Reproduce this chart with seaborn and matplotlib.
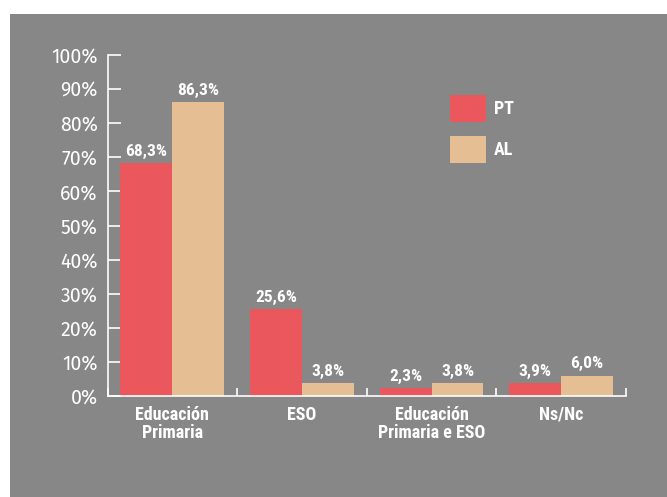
import matplotlib.pyplot as plt
import pandas as pd
import seaborn as sns
from matplotlib.patches import Patch, Rectangle

CATEGORIES = ["Educación\nPrimaria", "ESO", "Educación\nPrimaria e ESO", "Ns/Nc"]
SERIES = ["PT", "AL"]
PT_VALUES = [68.3, 25.6, 2.3, 3.9]
AL_VALUES = [86.3, 3.8, 3.8, 6.0]
Y_TICKS = list(range(0, 101, 10))

COLORS = {"PT": "#EA575C", "AL": "#E5BE94"}
PANEL = "#878787"
BOLD_FONT = ["Roboto Condensed", "Fira Sans Condensed", "DejaVu Sans"]
LIGHT_FONT = ["Fira Sans", "DejaVu Sans"]


def fmt(v: float) -> str:
    return f"{v:.1f}%".replace(".", ",")


def main() -> None:
    sns.set_theme(style="white")
    plt.rcParams["font.family"] = BOLD_FONT

    df = pd.DataFrame(
        {
            "categoria": CATEGORIES * 2,
            "serie": ["PT"] * len(PT_VALUES) + ["AL"] * len(AL_VALUES),
            "valor": PT_VALUES + AL_VALUES,
        }
    )

    fig = plt.figure(figsize=(6.67, 4.97), dpi=100, facecolor="white")
    fig.add_artist(
        Rectangle((10 / 667, 0), 1, 1 - 14 / 497, transform=fig.transFigure,
                  facecolor=PANEL, edgecolor="none", zorder=-10)
    )
    ax = fig.add_axes([107.5 / 667, 101 / 497, 518.5 / 667, 341 / 497])
    ax.set_facecolor("none")

    sns.barplot(
        data=df, x="categoria", y="valor", hue="serie", hue_order=SERIES,
        palette=COLORS, width=0.8, saturation=1, legend=False, linewidth=0, ax=ax,
    )

    for container, serie in zip(ax.containers, SERIES):
        vals = PT_VALUES if serie == "PT" else AL_VALUES
        ax.bar_label(container, labels=[fmt(v) for v in vals], padding=3,
                     color="white", fontsize=12.5, fontweight="bold")

    ax.set_xlim(-0.5, 3.5)
    ax.set_ylim(0, 100)
    ax.set_yticks(Y_TICKS)
    ax.set_yticklabels([f"{v}%" for v in Y_TICKS], family=LIGHT_FONT,
                       fontweight="normal")
    ax.tick_params(axis="y", direction="in", length=9, width=1.2, color="white",
                   labelcolor="white", labelsize=14, pad=7, left=True)
    ax.set_xticks(range(len(CATEGORIES)))
    ax.set_xticklabels(CATEGORIES, fontweight="bold", fontsize=13, color="white",
                       linespacing=1.05)
    ax.tick_params(axis="x", length=0, pad=7)
    ax.set_xticks([-0.5, 0.5, 1.5, 2.5, 3.5], minor=True)
    ax.tick_params(axis="x", which="minor", direction="in", length=6, width=1.2,
                   color="white", bottom=True)
    ax.set_xlabel("")
    ax.set_ylabel("")

    for side in ["top", "right"]:
        ax.spines[side].set_visible(False)
    for side in ["left", "bottom"]:
        ax.spines[side].set_color("white")
        ax.spines[side].set_linewidth(1.2)

    handles = [Patch(facecolor=COLORS[s], edgecolor="none") for s in SERIES]
    leg = ax.legend(handles, SERIES, loc="upper left", bbox_to_anchor=(0.66, 0.883),
                    frameon=False, handlelength=2.0, handleheight=1.9,
                    labelspacing=0.8, handletextpad=0.45, borderpad=0,
                    borderaxespad=0, prop={"weight": "bold", "size": 13})
    for t in leg.get_texts():
        t.set_color("white")

    fig.savefig("out.png", dpi=100, facecolor="white")
    plt.close(fig)


if __name__ == "__main__":
    main()
